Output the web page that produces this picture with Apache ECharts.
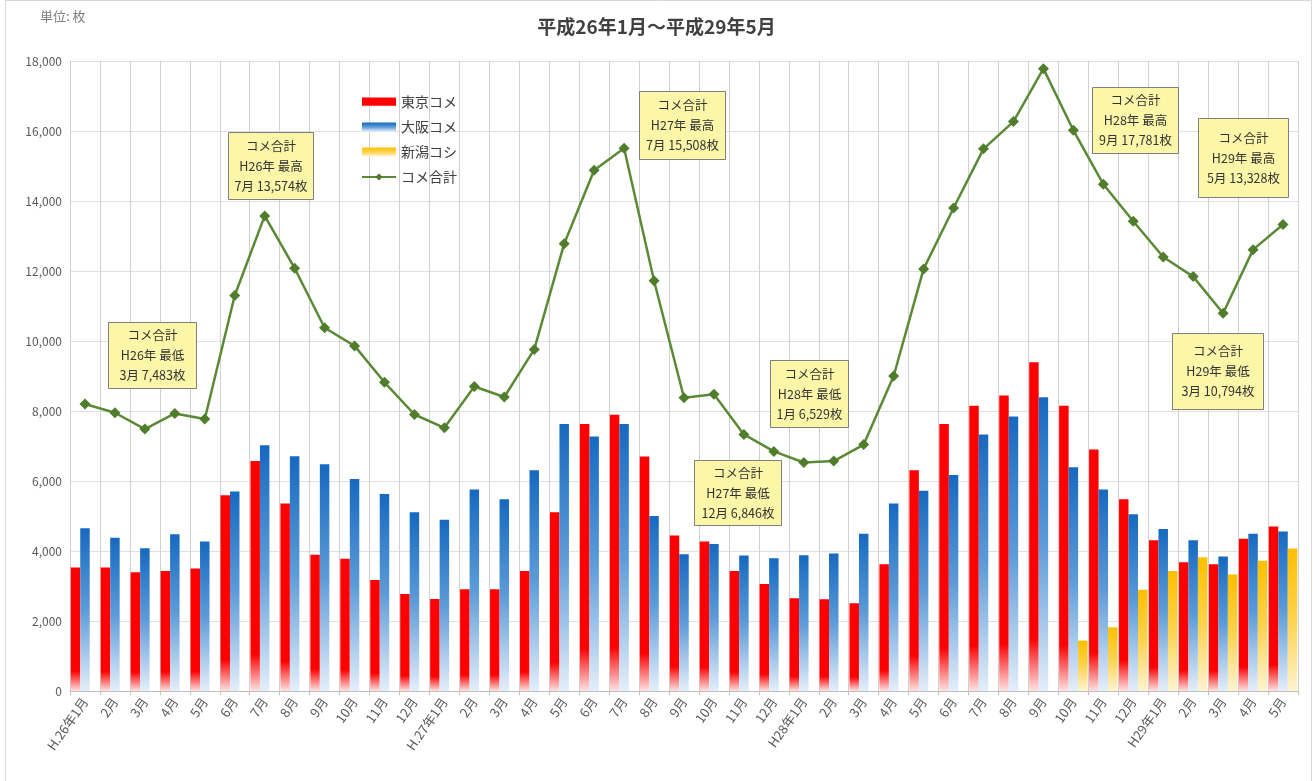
<!DOCTYPE html>
<html>
<head>
<meta charset="utf-8">
<script src="https://cdn.jsdelivr.net/npm/echarts@6/dist/echarts.min.js"></script>
<style>
  html, body { margin: 0; padding: 0; background: #fff; }
  #chart { width: 1313px; height: 781px; }
</style>
</head>
<body>
<div id="chart"></div>
<script>
// 月ラベル（H26年1月～H29年5月）
const months = [
  'H.26年1月', '2月', '3月', '4月', '5月', '6月', '7月', '8月', '9月', '10月', '11月', '12月',
  'H.27年1月', '2月', '3月', '4月', '5月', '6月', '7月', '8月', '9月', '10月', '11月', '12月',
  'H28年1月', '2月', '3月', '4月', '5月', '6月', '7月', '8月', '9月', '10月', '11月', '12月',
  'H29年1月', '2月', '3月', '4月', '5月'
]

// 東京コメ
const tokyo = [
  3530, 3530, 3390, 3430, 3500, 5590, 6570, 5360, 3890, 3780, 3170, 2770,
  2630, 2910, 2910, 3430, 5110, 7630, 7890, 6700, 4440, 4270, 3430, 3060,
  2650, 2620, 2510, 3620, 6310, 7630, 8150, 8440, 9390, 8150, 6900, 5480,
  4310, 3680, 3620, 4350, 4700
]

// 大阪コメ
const osaka = [
  4650, 4380, 4080, 4480, 4270, 5700, 7020, 6710, 6480, 6060, 5630, 5110,
  4890, 5760, 5480, 6310, 7630, 7270, 7630, 5000, 3910, 4200, 3870, 3790,
  3880, 3930, 4490, 5360, 5720, 6170, 7330, 7840, 8390, 6390, 5760, 5050,
  4630, 4310, 3840, 4490, 4560
]

// 新潟コシ（H28年10月から）
const niigata = [
  null, null, null, null, null, null, null, null, null, null, null, null,
  null, null, null, null, null, null, null, null, null, null, null, null,
  null, null, null, null, null, null, null, null, null, 1440, 1820, 2890,
  3430, 3820, 3330, 3720, 4070
]

// コメ合計
const total = [
  8200, 7950, 7483, 7930, 7770, 11300, 13574, 12080, 10380, 9860, 8820, 7900,
  7520, 8700, 8400, 9760, 12780, 14880, 15508, 11720, 8380, 8480, 7330, 6846,
  6529, 6570, 7040, 9000, 12060, 13800, 15490, 16270, 17781, 16020, 14480, 13420,
  12400, 11840, 10794, 12610, 13328
]

// 吹き出し（左, 上, 幅, 高さ, 文字）
const notes = [
  [108, 322, 88, 66, 'コメ合計\nH26年 最低\n3月 7,483枚'],
  [228, 132, 85, 67, 'コメ合計\nH26年 最高\n7月 13,574枚'],
  [639, 91, 86, 68, 'コメ合計\nH27年 最高\n7月 15,508枚'],
  [694, 460, 87, 65, 'コメ合計\nH27年 最低\n12月 6,846枚'],
  [770, 360, 78, 67, 'コメ合計\nH28年 最低\n1月 6,529枚'],
  [1092, 87, 86, 66, 'コメ合計\nH28年 最高\n9月 17,781枚'],
  [1198, 118, 90, 79, 'コメ合計\nH29年 最高\n5月 13,328枚'],
  [1172, 333, 91, 76, 'コメ合計\nH29年 最低\n3月 10,794枚']
]

const FONT = '"Noto Sans CJK JP", "Noto Sans", sans-serif'

const chart = echarts.init(document.getElementById('chart'))

// 吹き出しはグラフの線より前に描く
const noteGraphics = notes.map(n => ({
  type: 'group',
  left: n[0],
  top: n[1],
  z: 100,
  children: [
    {
      type: 'rect',
      z: 100,
      shape: { x: 0, y: 0, width: n[2], height: n[3] },
      style: { fill: '#fcf6a8', stroke: '#7f7f7f', lineWidth: 1 }
    },
    {
      type: 'text',
      z: 101,
      x: n[2] / 2,
      y: n[3] / 2,
      style: {
        text: n[4],
        fill: '#333',
        font: '12.5px ' + FONT,
        lineHeight: 20,
        align: 'center',
        verticalAlign: 'middle'
      }
    }
  ]
}))

const option = {
  animation: false,
  backgroundColor: '#fff',
  textStyle: { fontFamily: FONT },
  title: {
    text: '平成26年1月～平成29年5月',
    left: 'center',
    top: 12,
    textStyle: { fontSize: 19, fontWeight: 'bold', color: '#404040', fontFamily: FONT }
  },
  graphic: [
    {
      type: 'rect',
      left: 3,
      top: -2,
      shape: { x: 0, y: 0, width: 1306, height: 782 },
      style: { fill: 'none', stroke: '#d9d9d9', lineWidth: 1 },
      silent: true
    },
    {
      type: 'text',
      left: 40,
      top: 10,
      style: { text: '単位: 枚', fill: '#7f7f7f', font: '13px ' + FONT }
    }
  ].concat(noteGraphics),
  legend: {
    orient: 'vertical',
    left: 356,
    top: 90,
    itemWidth: 34,
    itemHeight: 9,
    itemGap: 11,
    textStyle: { fontSize: 14, color: '#404040', fontFamily: FONT },
    data: [
      { name: '東京コメ', icon: 'rect' },
      { name: '大阪コメ', icon: 'rect' },
      { name: '新潟コシ', icon: 'rect' },
      { name: 'コメ合計' }
    ]
  },
  grid: { left: 70, right: 15, top: 61, bottom: 90 },
  xAxis: {
    type: 'category',
    data: months,
    axisLine: { lineStyle: { color: '#bfbfbf' } },
    axisTick: { show: true, length: 4, lineStyle: { color: '#bfbfbf' } },
    axisLabel: { interval: 0, rotate: 55, fontSize: 13, color: '#595959', margin: 8 },
    splitLine: { show: true, interval: 0, lineStyle: { color: '#d0d0d0' } }
  },
  yAxis: {
    type: 'value',
    min: 0,
    max: 18000,
    interval: 2000,
    axisLine: { show: false },
    axisTick: { show: false },
    axisLabel: {
      fontSize: 12,
      color: '#595959',
      margin: 8,
      formatter: v => v.toLocaleString('en-US')
    },
    splitLine: { lineStyle: { color: '#e0e0e0' } }
  },
  series: [
    {
      name: '東京コメ',
      type: 'bar',
      data: tokyo,
      barGap: '0%',
      barCategoryGap: '5%',
      itemStyle: {
        color: new echarts.graphic.LinearGradient(0, 0, 0, 1, [
          { offset: 0, color: '#ff0000' },
          { offset: 0.84, color: '#ff0000' },
          { offset: 1, color: '#ffe2e2' }
        ])
      }
    },
    {
      name: '大阪コメ',
      type: 'bar',
      data: osaka,
      barGap: '0%',
      barCategoryGap: '5%',
      itemStyle: {
        color: new echarts.graphic.LinearGradient(0, 0, 0, 1, [
          { offset: 0, color: '#1669c0' },
          { offset: 0.5, color: '#5c9bd8' },
          { offset: 1, color: '#e4eefa' }
        ])
      }
    },
    {
      name: '新潟コシ',
      type: 'bar',
      data: niigata,
      barGap: '0%',
      barCategoryGap: '5%',
      itemStyle: {
        color: new echarts.graphic.LinearGradient(0, 0, 0, 1, [
          { offset: 0, color: '#ffbf00' },
          { offset: 0.5, color: '#ffd24d' },
          { offset: 1, color: '#fff3d0' }
        ])
      }
    },
    {
      name: 'コメ合計',
      type: 'line',
      data: total,
      z: 10,
      symbol: 'diamond',
      symbolSize: 11,
      lineStyle: { color: '#5b8a36', width: 2.5 },
      itemStyle: { color: '#4f7d2c' }
    }
  ]
}

chart.setOption(option)
</script>
</body>
</html>
